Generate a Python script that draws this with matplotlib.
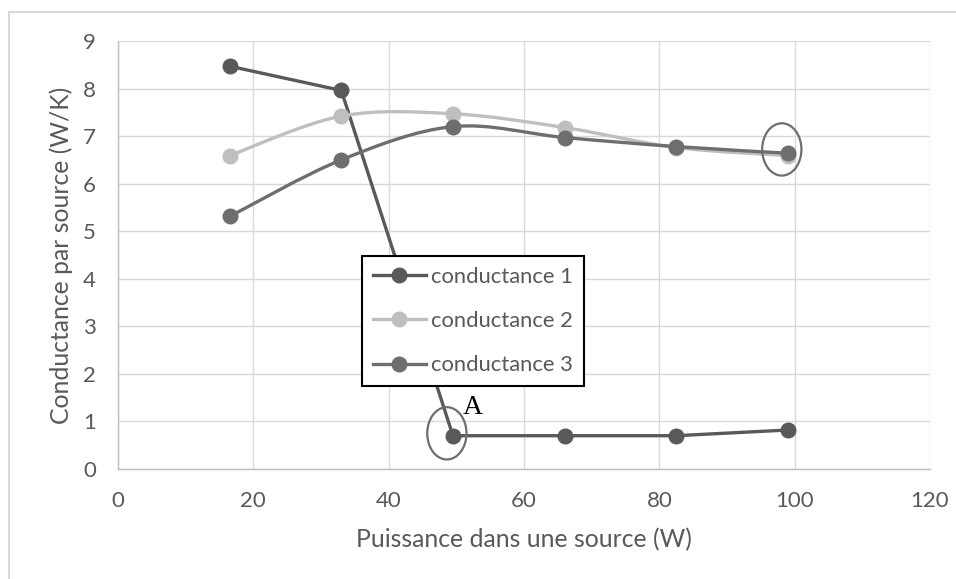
import numpy as np
import matplotlib.pyplot as plt
from matplotlib.path import Path
from matplotlib.patches import PathPatch, Ellipse, Rectangle
from matplotlib.lines import Line2D

plt.rcParams['font.family'] = ['Lato', 'DejaVu Sans']

# power per source (W)
puissance = [16.5, 33, 49.5, 66, 82.5, 99]
# conductance per source (W/K)
conductance_1 = [8.47, 7.96, 0.70, 0.70, 0.70, 0.82]
conductance_2 = [6.59, 7.42, 7.47, 7.18, 6.76, 6.59]
conductance_3 = [5.31, 6.50, 7.20, 6.97, 6.78, 6.64]
labels = ["conductance 1", "conductance 2", "conductance 3"]
colors = ["#595959", "#BFBFBF", "#6E6E6E"]

x_ticks = [0, 20, 40, 60, 80, 100, 120]
y_ticks = [0, 1, 2, 3, 4, 5, 6, 7, 8, 9]


def smooth_path(xs, ys):
    # Catmull-Rom style bezier segments, like a spreadsheet "smoothed line"
    pts = np.column_stack([xs, ys]).astype(float)
    n = len(pts)
    verts = [pts[0]]
    codes = [Path.MOVETO]
    for i in range(n - 1):
        p0 = pts[i - 1] if i > 0 else pts[i]
        p1 = pts[i]
        p2 = pts[i + 1]
        p3 = pts[i + 2] if i + 2 < n else pts[i + 1]
        c1 = p1 + (p2 - p0) / 6.0
        c2 = p2 - (p3 - p1) / 6.0
        verts += [c1, c2, p2]
        codes += [Path.CURVE4] * 3
    return Path(verts, codes)


fig = plt.figure(figsize=(9.56, 5.79), dpi=100)
ax = fig.add_axes([118 / 956, 1 - 469 / 579, 812 / 956, 428 / 579])

# outer chart border (top and left edges visible)
fig.patches.append(Rectangle((9 / 956, -0.1), 1.2, 1 - 12 / 579 + 0.1,
                             transform=fig.transFigure, fill=False,
                             edgecolor="#D9D9D9", linewidth=1.5))

lw = 2.4
ms = 10.5

# conductance 1: straight segments
ax.plot(puissance, conductance_1, color=colors[0], lw=lw, marker="o",
        ms=ms, zorder=3, solid_capstyle="round")

# conductance 2 & 3: smoothed lines
for ys, c, z in [(conductance_2, colors[1], 4), (conductance_3, colors[2], 5)]:
    ax.add_patch(PathPatch(smooth_path(puissance, ys), facecolor="none",
                           edgecolor=c, lw=lw, zorder=z, capstyle="round"))
    ax.plot(puissance, ys, linestyle="none", marker="o", ms=ms, color=c, zorder=z)

# circled points
ax.add_patch(Ellipse((98.1, 6.72), 5.8, 1.1, fill=False, edgecolor="#6E6E6E",
                     lw=1.6, zorder=6))
ax.add_patch(Ellipse((48.6, 0.75), 5.8, 1.1, fill=False, edgecolor="#6E6E6E",
                     lw=1.6, zorder=6))
ax.text(52.4, 1.3, "A", family="Liberation Serif", fontsize=20, color="black",
        ha="center", va="center", zorder=6)

ax.set_xlim(0, 120)
ax.set_ylim(0, 9)
ax.set_xticks(x_ticks)
ax.set_yticks(y_ticks)
ax.grid(True, color="#D9D9D9", lw=1.0, zorder=0)
ax.set_axisbelow(True)
for s in ["top", "right"]:
    ax.spines[s].set_visible(False)
ax.spines["left"].set_color("#BFBFBF")
ax.spines["bottom"].set_color("#BFBFBF")
ax.spines["left"].set_linewidth(1.0)
ax.spines["bottom"].set_linewidth(1.0)
ax.tick_params(length=0, labelsize=16, labelcolor="#595959")
ax.tick_params(axis="x", pad=16)
ax.tick_params(axis="y", pad=16)

ax.set_xlabel("Puissance dans une source (W)", fontsize=17.8, color="#595959",
              labelpad=12)
ax.set_ylabel("Conductance par source (W/K)", fontsize=17.8, color="#595959",
              labelpad=7)

handles = [Line2D([0], [0], color=c, lw=lw, marker="o", ms=ms) for c in colors]
leg = ax.legend(handles, labels, loc="upper left",
                bbox_to_anchor=((362 - 118) / 812, (469 - 256) / 428),
                fontsize=15.8, frameon=True, fancybox=False, framealpha=1,
                edgecolor="black", handlelength=2.4, handletextpad=0.23,
                labelspacing=1.1, borderpad=0.5, borderaxespad=0)
leg.get_frame().set_linewidth(1.5)
leg.set_zorder(10)
for t in leg.get_texts():
    t.set_color("#595959")

fig.savefig("out.png", dpi=100)
